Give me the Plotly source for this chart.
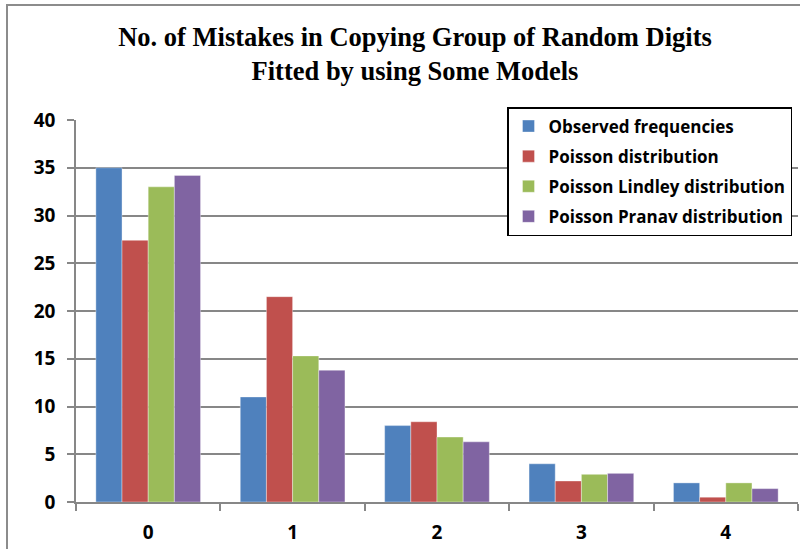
import plotly.graph_objects as go

# Number of mistakes per group and frequencies
mistakes = ["0", "1", "2", "3", "4"]
observed = [35, 11, 8, 4, 2]
poisson = [27.4, 21.5, 8.4, 2.2, 0.5]
poisson_lindley = [33.0, 15.3, 6.8, 2.9, 2.0]
poisson_pranav = [34.2, 13.8, 6.3, 3.0, 1.4]

series = [
    ("Observed frequencies", observed, "#4F81BD"),
    ("Poisson distribution", poisson, "#C0504D"),
    ("Poisson Lindley distribution", poisson_lindley, "#9BBB59"),
    ("Poisson Pranav distribution", poisson_pranav, "#8064A2"),
]

W, H = 800, 549
L, R, T, B = 76, 2, 120, 47
pw, ph = W - L - R, H - T - B

fig = go.Figure()
for name, vals, col in series:
    fig.add_trace(go.Bar(
        x=mistakes, y=vals, name=name, legendgroup=name,
        marker=dict(color=col, line=dict(color="rgba(255,255,255,0.6)", width=0.6)),
    ))

def px_x(p):
    return (p - L) / pw

def px_y(p):
    return 1 - (p - T) / ph

grid_col = "#878787"
tick_font = dict(family="Open Sans", size=19, color="black", weight="bold")

fig.update_layout(
    width=W, height=H,
    margin=dict(l=L, r=R, t=T, b=B),
    paper_bgcolor="white", plot_bgcolor="white",
    barmode="group", bargap=0.275, bargroupgap=0,
    title=dict(
        text="No. of Mistakes in Copying Group of Random Digits<br>Fitted by using Some Models",
        x=415 / W, xanchor="center", y=1 - 46 / H, yanchor="middle",
        font=dict(family="Liberation Serif", size=26.5, color="black", weight="bold"),
    ),
    legend=dict(
        x=px_x(507), y=px_y(107), xanchor="left", yanchor="top",
        bgcolor="white", bordercolor="black", borderwidth=1.5,
        font=dict(family="Open Sans", size=17, color="black", weight="bold"),
        tracegroupgap=5, itemclick=False,
    ),
    xaxis=dict(
        type="category", showline=True, linecolor=grid_col, linewidth=1.5,
        ticks="outside", tickson="boundaries", ticklen=7, tickcolor=grid_col,
        tickwidth=1.5, tickfont=tick_font, ticklabelstandoff=12,
        showgrid=False,
    ),
    yaxis=dict(
        range=[0, 40], dtick=5, showline=True, linecolor=grid_col, linewidth=1.5,
        ticks="outside", ticklen=7, tickcolor=grid_col, tickwidth=1.5,
        tickfont=tick_font, showgrid=True, gridcolor=grid_col, gridwidth=1.5,
        zeroline=False, ticklabelstandoff=8,
    ),
    shapes=[
        dict(type="line", xref="paper", yref="paper",
             x0=px_x(7), x1=px_x(7), y0=px_y(5), y1=px_y(560),
             line=dict(color="#8C8C8C", width=2)),
        dict(type="line", xref="paper", yref="paper",
             x0=px_x(6), x1=px_x(810), y0=px_y(5), y1=px_y(5),
             line=dict(color="#8C8C8C", width=2)),
    ],
)

fig.write_html("out.html")
